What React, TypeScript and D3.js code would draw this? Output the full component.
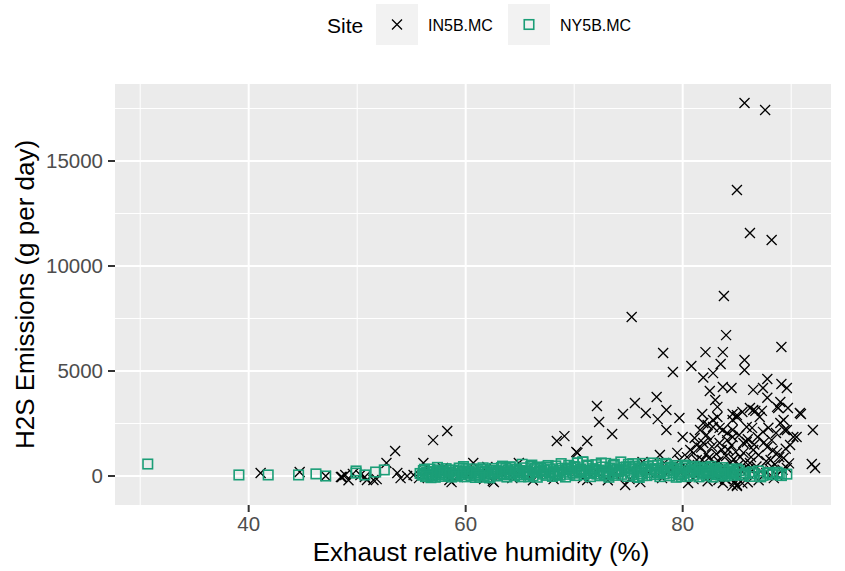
import React from "react";
import * as d3 from "d3";

const in5bRH = [
  85.7, 87.6, 85.0, 86.2, 88.2, 83.8, 84.0, 75.3, 89.1, 78.2, 82.1, 83.7, 85.7, 85.7, 79.1, 80.8, 83.5, 82.8, 81.9, 87.8,
  89.1, 89.6, 87.4, 86.5, 84.5, 83.7, 82.5, 83.0, 83.2, 87.8, 72.1, 72.3, 71.2, 73.5, 74.5, 75.6, 76.6, 77.6, 78.5, 77.7,
  78.5, 79.7, 80.0, 81.8, 81.6, 90.9, 92.0, 90.5, 91.9, 92.2, 88.8, 89.3, 89.6, 89.9, 87.1, 86.5, 86.4, 85.9, 85.0, 84.6,
  84.1, 83.4, 82.8, 82.2, 81.3, 81.0, 80.4, 79.5, 77.9, 74.7, 76.1, 80.5, 83.7, 85.0, 71.2, 68.4, 69.1, 70.2, 70.3, 58.3,
  57.0, 60.7, 62.0, 64.9, 62.6, 58.7, 53.5, 52.7, 56.1, 48.6, 50.9, 51.5, 54.0, 53.7, 57.9, 41.1, 44.7, 47.1, 48.5, 48.9,
  50.7, 58.5, 62.5, 76.3, 78.3, 79.7, 80.7, 81.1, 81.9, 82.2, 82.3, 81.3, 90.8, 90.2, 89.4, 89.0, 88.7, 88.1, 87.8, 86.9,
  86.5, 85.9, 85.6, 85.3, 84.6, 84.6, 84.2, 83.7, 83.4, 83.2, 82.8, 82.5, 81.9, 81.8, 85.0, 84.6, 83.3, 86.5, 87.7, 88.7,
  89.6, 89.3, 86.2, 84.4, 83.0, 87.4, 88.2, 85.5, 86.7, 84.6, 85.0, 86.2, 87.3, 88.7, 89.7, 89.0,
  80.2, 80.9, 81.4, 81.7, 82.0, 82.4, 82.7, 82.9, 83.1, 83.3, 83.6, 83.8, 84.0, 84.1, 84.3, 84.5, 84.7, 84.9, 85.1, 85.2,
  85.4, 85.6, 85.8, 86.0, 86.1, 86.3, 86.6, 86.8, 87.0, 87.2, 87.5, 87.7, 87.9, 88.0, 88.3, 88.5, 88.6, 88.9, 89.2, 89.5,
  89.8, 83.9, 84.8, 86.0, 87.0, 82.3, 81.0, 85.5, 88.4, 79.8, 78.9, 78.1, 76.8, 75.1, 73.7, 73.1, 72.2, 70.8, 69.4, 68.1,
  66.7, 66.2, 64.8, 64.3, 63.2, 61.7, 60.4, 59.3, 56.8, 55.7, 55.2, 51.8, 49.6, 49.2, 50.3, 54.6,
];
const in5bH2S = [
  17760, 17430, 13620, 11570, 11240, 8570, 6710, 7570, 6140, 5860, 5900, 5900, 5520, 5050, 4950, 5240, 5330, 4900, 4690, 4620,
  4380, 4190, 4190, 4100, 4190, 4240, 4050, 3620, 3290, 3730, 3330, 2570, 1670, 2000, 2950, 3480, 3000, 3760, 3140, 2710,
  2190, 2760, 1860, 2950, 2190, 2950, 2190, 1860, 570, 380, 3240, 2670, 2190, 1480, 2810, 3140, 2290, 1620, 2900, 2190,
  1710, 2290, 2670, 1950, 1480, 1100, 900, 1100, 1000, -430, -290, -330, -330, -480, -190, 1670, 1900, 1140, 1100, 2140,
  1710, 620, 430, 620, -290, -290, 1190, 620, 620, -50, -190, -190, -100, 140, 380, 140, 190, 0, -50, 50,
  -50, -190, -240, 670, 620, 760, 1240, 1810, 1570, 1050, 2430, 760, 3000, 1860, 2190, 2520, 1100, 760, 1380, 1860,
  1240, 2330, 1570, 900, 2670, 1860, 1240, 2190, 1570, 2810, 2330, 1710, 2520, 760, -430, -460, -190, 290, 140, 50,
  380, 860, 620, 620, 620, 2100, 1710, 3050, 3100, 2950, 2810, 3240, 3100, 3290, 3240, 3520,
  450, 300, 520, 1350, 380, 860, 1400, 200, 1050, 700, 1250, 450, 950, 2050, 300, 1450, 800, 1150, 500, 1950,
  250, 1100, 650, 1750, 350, 900, 1500, 450, 1000, 200, 1600, 700, 2300, 350, 1200, 550, 2050, 900, 300, 1300,
  600, -150, -250, -300, -200, -250, -150, -350, -100, 150, 300, -100, 200, -150, 100, -200, 150, -100, 250, -150,
  100, -200, 150, -100, 200, -150, 100, -50, 150, -100, 50, -150, 100, -200, 50, 0,
];

const ny5bRH = [
  30.7, 39.1, 41.8, 44.6, 46.2, 47.1, 49.9, 50.7, 51.7, 52.5, 56.1, 57.0, 49.9, 59.8, 64.1, 66.6, 70.3, 70.8,
  55.8, 56.0, 56.1, 56.3, 56.4, 56.6, 56.7, 56.9, 57.0, 57.2, 57.3, 57.5, 57.6, 57.8, 57.9, 58.1, 58.2, 58.4, 58.5, 58.7,
  58.8, 59.0, 59.1, 59.3, 59.4, 59.6, 59.7, 59.9, 60.0, 60.2, 60.3, 60.5, 60.6, 60.8, 60.9, 61.1, 61.2, 61.4, 61.5, 61.7,
  61.8, 62.0, 62.1, 62.3, 62.4, 62.6, 62.7, 62.9, 63.0, 63.2, 63.3, 63.5, 63.6, 63.8, 63.9, 64.1, 64.2, 64.4, 64.5, 64.7,
  64.8, 65.0, 65.1, 65.3, 65.4, 65.6, 65.7, 65.9, 66.0, 66.2, 66.3, 66.5, 66.6, 66.8, 66.9, 67.1, 67.2, 67.4, 67.5, 67.7,
  67.8, 68.0, 68.1, 68.3, 68.4, 68.6, 68.7, 68.9, 69.0, 69.2, 69.3, 69.5, 69.6, 69.8, 69.9, 70.1, 70.2, 70.3, 70.5, 70.6,
  70.8, 70.9, 71.1, 71.2, 71.4, 71.5, 71.7, 71.8, 72.0, 72.1, 72.3, 72.4, 72.6, 72.7, 72.9, 73.0, 73.2, 73.3, 73.5, 73.6,
  73.8, 73.9, 74.1, 74.3, 74.4, 74.6, 74.7, 74.9, 75.0, 75.2, 75.3, 75.5, 75.6, 75.8, 75.9, 76.1, 76.2, 76.4, 76.5, 76.7,
  76.8, 77.0, 77.1, 77.3, 77.4, 77.6, 77.7, 77.9, 78.0, 78.2, 78.3, 78.5, 78.6, 78.8, 78.9, 79.1, 79.2, 79.4, 79.5, 79.7,
  79.8, 80.0, 80.1, 80.3, 80.4, 80.6, 80.7, 80.9, 81.0, 81.2, 81.3, 81.5, 81.6, 81.8, 81.9, 82.1, 82.2, 82.4, 82.5, 82.7,
  82.8, 83.0, 83.1, 83.3, 83.4, 83.6, 83.7, 83.9, 84.0, 84.2, 84.3, 84.5, 84.7, 84.9, 85.2, 85.5, 85.8, 86.2, 86.6, 87.0,
  87.4, 87.8, 88.3, 88.7, 89.1, 89.6,
  56.2, 56.8, 57.4, 58.0, 58.6, 59.2, 59.8, 60.4, 61.0, 61.6, 62.2, 62.8, 63.4, 64.0, 64.6, 65.2, 65.8, 66.4, 67.0, 67.6,
  68.2, 68.8, 69.4, 70.0, 70.7, 71.3, 71.9, 72.5, 73.1, 73.7, 74.2, 74.8, 75.4, 76.0, 76.6, 77.2, 77.8, 78.4, 79.0, 79.6,
  80.2, 80.8, 81.4, 82.0, 82.6, 83.2, 83.8, 84.4, 85.0, 85.6, 86.4, 87.2, 88.0, 88.9,
  56.5, 57.7, 58.9, 60.1, 61.3, 62.5, 63.7, 64.9, 66.1, 67.3, 68.5, 69.7, 70.4, 71.6, 72.8, 74.0, 75.1, 76.3, 77.5, 78.7,
  79.9, 81.1, 82.3, 83.5, 84.6,
];
const ny5bH2S = [
  570, 50, 50, 50, 100, 0, 140, 50, 190, 290, 100, 50, 240, 380, 430, 430, 620, 670,
  120, 40, 260, -30, 180, 90, 330, 10, 210, -60, 150, 290, 70, -20, 240, 130, 350, 30, 190, -50,
  280, 110, 20, 230, 380, 60, 160, -40, 300, 90, 200, 10, 340, 140, -70, 250, 70, 180, 310, 20,
  220, 120, -30, 270, 80, 360, 160, 0, 230, 110, 400, 50, 190, -50, 290, 430, 100, 210, 20, 330,
  140, 260, -40, 180, 390, 70, 240, 120, 450, 10, 300, 170, -60, 220, 380, 90, 280, 30, 430, 150,
  340, -20, 200, 480, 110, 260, 40, 370, 180, -50, 300, 510, 80, 230, 140, 420, 20, 620, 190, 330,
  670, 60, 260, 470, 130, -30, 350, 210, 540, 90, 280, 10, 430, 170, 600, 240, -60, 380, 120, 500,
  30, 300, 190, 670, 80, 410, 250, -20, 560, 150, 340, 60, 470, 220, -50, 390, 110, 600, 280, 20,
  450, 170, 330, 620, 70, 260, 520, -30, 200, 380, 100, 560, 240, 10, 420, 150, 310, -60, 500, 220,
  60, 370, 130, 460, -20, 270, 180, 400, 40, 300, 160, -40, 350, 90, 230, 420, 10, 280, 130, 370,
  -50, 200, 310, 70, 250, 140, 400, -10, 220, 110, 320, 30, 180, 90, 260, 40, 150, -20, 110, 240,
  30, 130, 60, 180, 20, 90,
  320, -80, 410, 60, 280, -10, 450, 170, 30, 390, -90, 250, 470, 120, 310, 560, -40, 360, 210, 500,
  80, 590, 350, 450, 160, 520, 300, 620, 40, 560, 250, 430, 590, -70, 330, 490, 140, 600, 380, 80,
  520, 250, 330, 170, 460, 60, 290, 150, 340, 70, 200, -40, 160, 110,
  -20, 170, 90, 210, -60, 140, 360, 60, 520, 280, 40, 380, 250, 140, 70, 330, 440, 20, 350, 260,
  -30, 460, 190, 50, 230,
];

const xTicks = [40, 60, 80];
const xMinor = [30, 50, 70, 90];
const yTicks = [0, 5000, 10000, 15000];
const yMinor = [2500, 7500, 12500, 17500];
const siteLabels = ["IN5B.MC", "NY5B.MC"];

const W = 845;
const H = 571;
const P = { left: 115, right: 831, top: 84, bottom: 505 };
const GREEN = "#1B9E77";
const FONT = "'Liberation Sans', Arial, sans-serif";

function Cross({ cx, cy, r }: { cx: number; cy: number; r: number }) {
  return (
    <path
      d={`M${cx - r},${cy - r}L${cx + r},${cy + r}M${cx - r},${cy + r}L${cx + r},${cy - r}`}
      stroke="#000"
      strokeWidth={1.3}
      fill="none"
    />
  );
}

export default function App() {
  const x = d3.scaleLinear().domain([27.68, 93.67]).range([P.left, P.right]);
  const y = d3.scaleLinear().domain([-1381, 18667]).range([P.bottom, P.top]);
  const sq = 9.5;

  return (
    <svg
      width={W}
      height={H}
      style={{ position: "absolute", left: 0, top: 0, background: "#fff" }}
      fontFamily={FONT}
    >
      <rect x={0} y={0} width={W} height={H} fill="#fff" />
      <rect x={P.left} y={P.top} width={P.right - P.left} height={P.bottom - P.top} fill="#EBEBEB" />
      {xMinor.map((v) => (
        <line key={"xm" + v} x1={x(v)} x2={x(v)} y1={P.top} y2={P.bottom} stroke="#fff" strokeWidth={1} />
      ))}
      {yMinor.map((v) => (
        <line key={"ym" + v} x1={P.left} x2={P.right} y1={y(v)} y2={y(v)} stroke="#fff" strokeWidth={1} />
      ))}
      {xTicks.map((v) => (
        <line key={"xg" + v} x1={x(v)} x2={x(v)} y1={P.top} y2={P.bottom} stroke="#fff" strokeWidth={2} />
      ))}
      {yTicks.map((v) => (
        <line key={"yg" + v} x1={P.left} x2={P.right} y1={y(v)} y2={y(v)} stroke="#fff" strokeWidth={2} />
      ))}

      <g>
        {in5bRH.map((v, i) => (
          <Cross key={"in" + i} cx={x(v)} cy={y(in5bH2S[i])} r={5} />
        ))}
      </g>
      <g>
        {ny5bRH.map((v, i) => (
          <rect
            key={"ny" + i}
            x={x(v) - sq / 2}
            y={y(ny5bH2S[i]) - sq / 2}
            width={sq}
            height={sq}
            fill="none"
            stroke={GREEN}
            strokeWidth={1.6}
          />
        ))}
      </g>

      {xTicks.map((v) => (
        <g key={"xt" + v}>
          <line x1={x(v)} x2={x(v)} y1={P.bottom} y2={P.bottom + 7} stroke="#333" strokeWidth={2} />
          <text x={x(v)} y={P.bottom + 26} textAnchor="middle" fontSize={20.5} fill="#4D4D4D">
            {v}
          </text>
        </g>
      ))}
      {yTicks.map((v) => (
        <g key={"yt" + v}>
          <line x1={P.left - 7} x2={P.left} y1={y(v)} y2={y(v)} stroke="#333" strokeWidth={2} />
          <text x={P.left - 12} y={y(v)} dy="0.36em" textAnchor="end" fontSize={20.5} fill="#4D4D4D">
            {v}
          </text>
        </g>
      ))}
      <text x={(P.left + P.right) / 2 + 8} y={561} textAnchor="middle" fontSize={26} fill="#000">
        Exhaust relative humidity (%)
      </text>
      <text
        transform={`translate(34,${(P.top + P.bottom) / 2}) rotate(-90)`}
        textAnchor="middle"
        fontSize={26}
        fill="#000"
      >
        H2S Emissions (g per day)
      </text>

      <text x={327} y={25} dy="0.36em" fontSize={21} fill="#000">
        Site
      </text>
      <rect x={376} y={4} width={42} height={41} fill="#F2F2F2" />
      <Cross cx={397} cy={24.5} r={5} />
      <text x={428} y={25} dy="0.36em" fontSize={16} fill="#000">
        {siteLabels[0]}
      </text>
      <rect x={508} y={4} width={42} height={41} fill="#F2F2F2" />
      <rect x={529 - sq / 2} y={24.5 - sq / 2} width={sq} height={sq} fill="none" stroke={GREEN} strokeWidth={1.6} />
      <text x={560} y={25} dy="0.36em" fontSize={16} fill="#000">
        {siteLabels[1]}
      </text>
    </svg>
  );
}
